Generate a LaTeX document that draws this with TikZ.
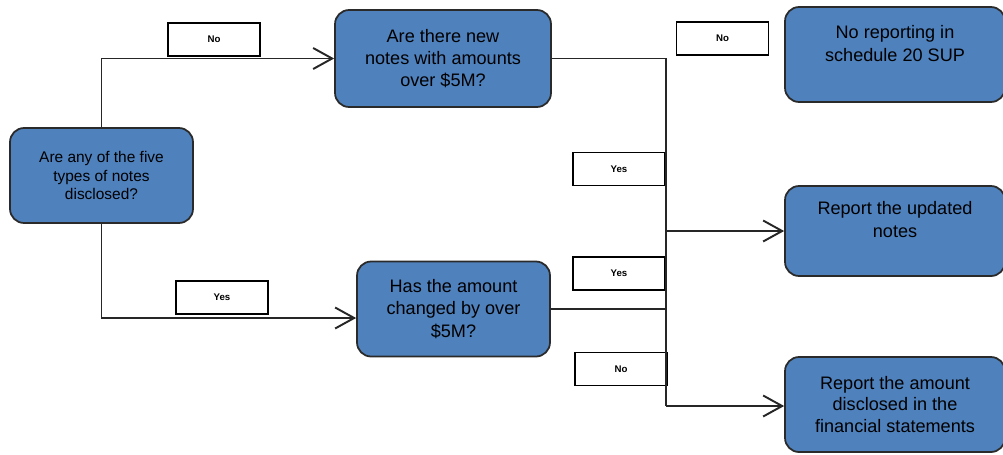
\documentclass[tikz,border=0pt]{standalone}
\usepackage{fontspec}
\setmainfont{Liberation Sans}
\usetikzlibrary{arrows.meta}
\definecolor{boxblue}{HTML}{4F81BD}
\definecolor{boxedge}{HTML}{2A2A2A}

\begin{document}
\begin{tikzpicture}[x = 0.02cm, y = -0.02cm,
    question/.style = {draw = boxedge, line width = 1pt, fill = boxblue, rounded corners = 8pt, align = center, inner sep = 2pt, font = \fontsize{10.3}{12.6}\selectfont},
    answer/.style = {draw = black, line width = 0.8pt, fill = white, minimum width = 1.84cm, minimum height = 0.66cm, font = \fontsize{5.5}{6}\selectfont\bfseries},
    link/.style = {draw = black!85, line width = 1.1pt},
    arrow/.style = {link, -{Straight Barb[length = 0.38cm, width = 0.42cm, line width = 1.1pt]}}]
    \useasboundingbox (0, 0) rectangle (1003, 454);

    \node[question, minimum width = 3.66cm, minimum height = 1.9cm, font = \fontsize{8.8}{10.5}\selectfont] (types) at (101.5, 175.5) {Are any of the five\\types of notes\\disclosed?};
    \node[question, minimum width = 4.32cm, minimum height = 1.94cm] (new) at (443, 58.5) {Are there new\\notes with amounts\\over \$5M?};
    \node[question, minimum width = 3.86cm, minimum height = 1.9cm] (changed) at (453.5, 309) {Has the amount\\changed by over\\\$5M?};
    \node[question, minimum width = 4.4cm, minimum height = 1.9cm, font = \fontsize{10.3}{13}\selectfont] (none) at (895, 54.5) {No reporting in\\schedule 20 SUP\\\mbox{}};
    \node[question, minimum width = 4.4cm, minimum height = 1.8cm, font = \fontsize{10.3}{13}\selectfont] (updated) at (895, 231) {Report the updated\\notes\\\mbox{}};
    \node[question, minimum width = 4.4cm, minimum height = 1.9cm, font = \fontsize{10.3}{12.4}\selectfont] (amount) at (895, 404.5) {Report the amount\\disclosed in the\\financial statements};

    \node[answer] (no1) at (214, 39.5) {No};
    \node[answer] (yes1) at (222, 297.5) {Yes};
    \node[answer] (no2) at (722.5, 38.5) {No};
    \node[answer] (yes2) at (619, 169) {Yes};
    \node[answer] (yes3) at (619, 273.5) {Yes};
    \node[answer] (no3) at (621, 369) {No};

    \coordinate (split) at (666, 406);
    \coordinate (inlet) at ([yshift = -0.18cm]changed.west);
    \draw[arrow] (types.north) |- (new.west);
    \draw[arrow] (types.south) |- (inlet);
    \draw[link] (new.east) -| (split);
    \draw[link] (changed.east) -- (changed.east -| split);
    \draw[arrow] (updated.west -| split) -- (updated.west);
    \draw[arrow] (split) -- (split -| amount.west);
\end{tikzpicture}
\end{document}
